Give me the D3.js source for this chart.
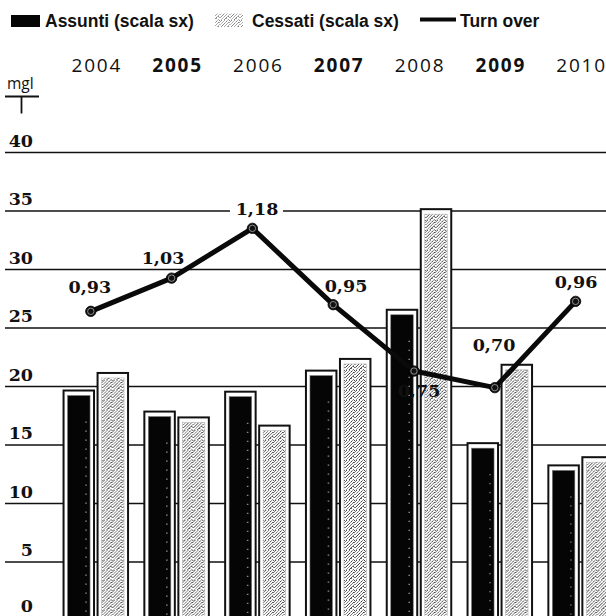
<!DOCTYPE html>
<html><head><meta charset="utf-8">
<script src="https://cdn.jsdelivr.net/npm/d3@7"></script>
<style>
html,body{margin:0;padding:0;background:#fff;}
svg{display:block;}
</style></head>
<body>
<div id="chart"></div>
<script>
// ---- data ----
const years = ["2004","2005","2006","2007","2008","2009","2010"];
const boldYears = ["2005","2007","2009"];
const assunti = [19.7, 17.9, 19.6, 21.4, 26.6, 15.2, 13.3];
const cessati = [21.2, 17.4, 16.7, 22.4, 35.2, 21.9, 14.0];
const turnover = [0.93, 1.03, 1.18, 0.95, 0.75, 0.70, 0.96];
const turnoverLabels = ["0,93","1,03","1,18","0,95","0,75","0,70","0,96"];
const yTicks = [0,5,10,15,20,25,30,35,40];
const seriesNames = ["Assunti (scala sx)","Cessati (scala sx)","Turn over"];

// ---- layout ----
const W = 606, H = 616;
const svg = d3.select("#chart").append("svg").attr("width", W).attr("height", H);
const defs = svg.append("defs");

// stipple pattern for Cessati
const pat = defs.append("pattern").attr("id","stipple").attr("patternUnits","userSpaceOnUse")
  .attr("width",10).attr("height",10);
pat.append("rect").attr("width",10).attr("height",10).attr("fill","#fff");
const dotRows = [[1,4,7,9],[0,3,6],[2,5,8,9],[1,4,7],[0,3,6,9],[2,5,8],[1,4,7,8],[0,3,6,9],[2,5,6],[1,4,8]];
const dotCols = ["#3a3a3a","#6a6a6a","#8c8c8c"];
let k = 0;
dotRows.forEach((row, r) => row.forEach(c => {
  pat.append("rect").attr("x", c).attr("y", r).attr("width",1).attr("height",1)
    .attr("fill", dotCols[k++ % 3]);
}));

const x = d3.scaleBand().domain(years).range([55.4, 55.4 + 7*80.8]).paddingInner(0.177).paddingOuter(0.0885);
const xs = d3.scaleBand().domain(["A","C"]).range([0, x.bandwidth()]).paddingInner(0.045);
const y = d3.scaleLinear().domain([0, 40]).range([620, 152]);
const y2 = d3.scaleLinear().domain([0, 1.41]).range([620, 152]);

// gridlines
const grid = svg.append("g").attr("transform","translate(606,0)")
  .call(d3.axisLeft(y).tickValues(yTicks).tickSize(601).tickFormat(""));
grid.select(".domain").remove();
grid.selectAll("line").attr("stroke","#111").attr("stroke-width",1.7);

// y labels
const yl = svg.append("g").attr("transform","translate(33,0)")
  .call(d3.axisLeft(y).tickValues(yTicks).tickSize(0).tickPadding(0).tickFormat(d3.format("d")));
yl.select(".domain").remove();
yl.selectAll("text").attr("dy", d => d === 0 ? "-9" : "-6").attr("y",0)
  .attr("font-family","'DejaVu Serif', serif").attr("font-weight","bold").attr("font-size",17.5).attr("fill","#111");

// mgl + T symbol
svg.append("text").attr("x",7).attr("y",89).text("mgl")
  .attr("font-family","'Open Sans', sans-serif").attr("font-size",15.5).attr("fill","#111");
svg.append("line").attr("x1",5).attr("x2",39).attr("y1",96.5).attr("y2",96.5).attr("stroke","#111").attr("stroke-width",1.8);
svg.append("line").attr("x1",21.5).attr("x2",21.5).attr("y1",96.5).attr("y2",113.5).attr("stroke","#111").attr("stroke-width",1.8);

// year labels
const xa = svg.append("g").attr("transform","translate(0,72)")
  .call(d3.axisTop(x).tickSize(0).tickPadding(0));
xa.select(".domain").remove();
xa.selectAll("text")
  .attr("font-family","'Open Sans', sans-serif").attr("font-size",19).attr("letter-spacing","1.8px")
  .attr("dx","1").attr("fill","#111")
  .attr("font-weight", d => boldYears.includes(d) ? "bold" : "500");

// bars
const groups = svg.append("g").selectAll("g").data(years).join("g")
  .attr("transform", d => `translate(${x(d)},0)`);
const barData = (d,i) => [{k:"A", v:assunti[i]}, {k:"C", v:cessati[i]}];
const bars = groups.selectAll("g.bar").data(barData).join("g").attr("class","bar");
bars.append("rect")
  .attr("x", b => xs(b.k) + 1).attr("y", b => y(b.v) + 1)
  .attr("width", xs.bandwidth() - 2).attr("height", b => y(0) - y(b.v))
  .attr("fill","#fff").attr("stroke","#111").attr("stroke-width",2);
bars.append("rect")
  .attr("x", b => xs(b.k) + 5).attr("y", b => y(b.v) + 6)
  .attr("width", xs.bandwidth() - 10).attr("height", b => y(0) - y(b.v))
  .attr("fill", b => b.k === "A" ? "#050505" : "url(#stipple)")
  .attr("stroke", b => b.k === "A" ? "#777" : "#bbb").attr("stroke-width",0.6);
bars.filter(b => b.k === "A").append("line")
  .attr("x1", b => xs(b.k) + xs.bandwidth() - 9).attr("x2", b => xs(b.k) + xs.bandwidth() - 9)
  .attr("y1", b => y(b.v) + 32).attr("y2", y(0))
  .attr("stroke","#888").attr("stroke-width",1.6).attr("stroke-dasharray","1.2,7.8");

// turnover line
const px = (d) => x(d) + x.bandwidth()/2 - 5;
const pts = years.map((d,i) => [px(d), y2(turnover[i])]);
svg.append("path").datum(pts)
  .attr("d", d3.line())
  .attr("fill","none").attr("stroke","#0a0a0a").attr("stroke-width",5)
  .attr("stroke-linejoin","round");
const pg = svg.append("g").selectAll("g").data(pts).join("g");
pg.append("circle").attr("cx", p => p[0]).attr("cy", p => p[1]).attr("r",5.2)
  .attr("fill","#111").attr("stroke","#000").attr("stroke-width",0.8);
pg.append("circle").attr("cx", p => p[0]).attr("cy", p => p[1]).attr("r",3.2)
  .attr("fill","none").attr("stroke","#aaa").attr("stroke-width",0.8);

// value labels (offsets relative to the points)
const labelOffset = [[-1,-18.6],[-8.6,-14],[4.6,-13.3],[12.8,-13],[5,25.6],[-0.8,-37],[0.4,-13.1]];
const maxT = d3.max(turnover);
const lg = svg.append("g").selectAll("g").data(turnoverLabels).join("g")
  .attr("transform", (d,i) => `translate(${pts[i][0] + labelOffset[i][0]},${pts[i][1] + labelOffset[i][1]})`);
lg.filter((d,i) => turnover[i] === maxT).append("rect")
  .attr("x",-27).attr("y",-16).attr("width",53).attr("height",20).attr("fill","#fff");
lg.append("text").text(d => d).attr("text-anchor","middle")
  .attr("font-family","'DejaVu Serif', serif").attr("font-weight","bold").attr("font-size",17.5).attr("fill","#111");

// legend
const legendFont = "'Liberation Sans', Arial, sans-serif";
svg.append("rect").attr("x",11).attr("y",15).attr("width",29).attr("height",12).attr("fill","#050505");
svg.append("text").attr("x",45).attr("y",27).text(seriesNames[0])
  .attr("font-family",legendFont).attr("font-weight","bold").attr("font-size",17.5).attr("fill","#111");
svg.append("rect").attr("x",215).attr("y",13.5).attr("width",28).attr("height",13.5).attr("fill","url(#stipple)").attr("opacity",0.6);
svg.append("text").attr("x",252).attr("y",27).text(seriesNames[1])
  .attr("font-family",legendFont).attr("font-weight","bold").attr("font-size",17.5).attr("fill","#111");
svg.append("line").attr("x1",420).attr("x2",456).attr("y1",19.5).attr("y2",19.5).attr("stroke","#0a0a0a").attr("stroke-width",4);
svg.append("text").attr("x",460).attr("y",27).text(seriesNames[2])
  .attr("font-family",legendFont).attr("font-weight","bold").attr("font-size",17.5).attr("fill","#111");
</script>
</body></html>
